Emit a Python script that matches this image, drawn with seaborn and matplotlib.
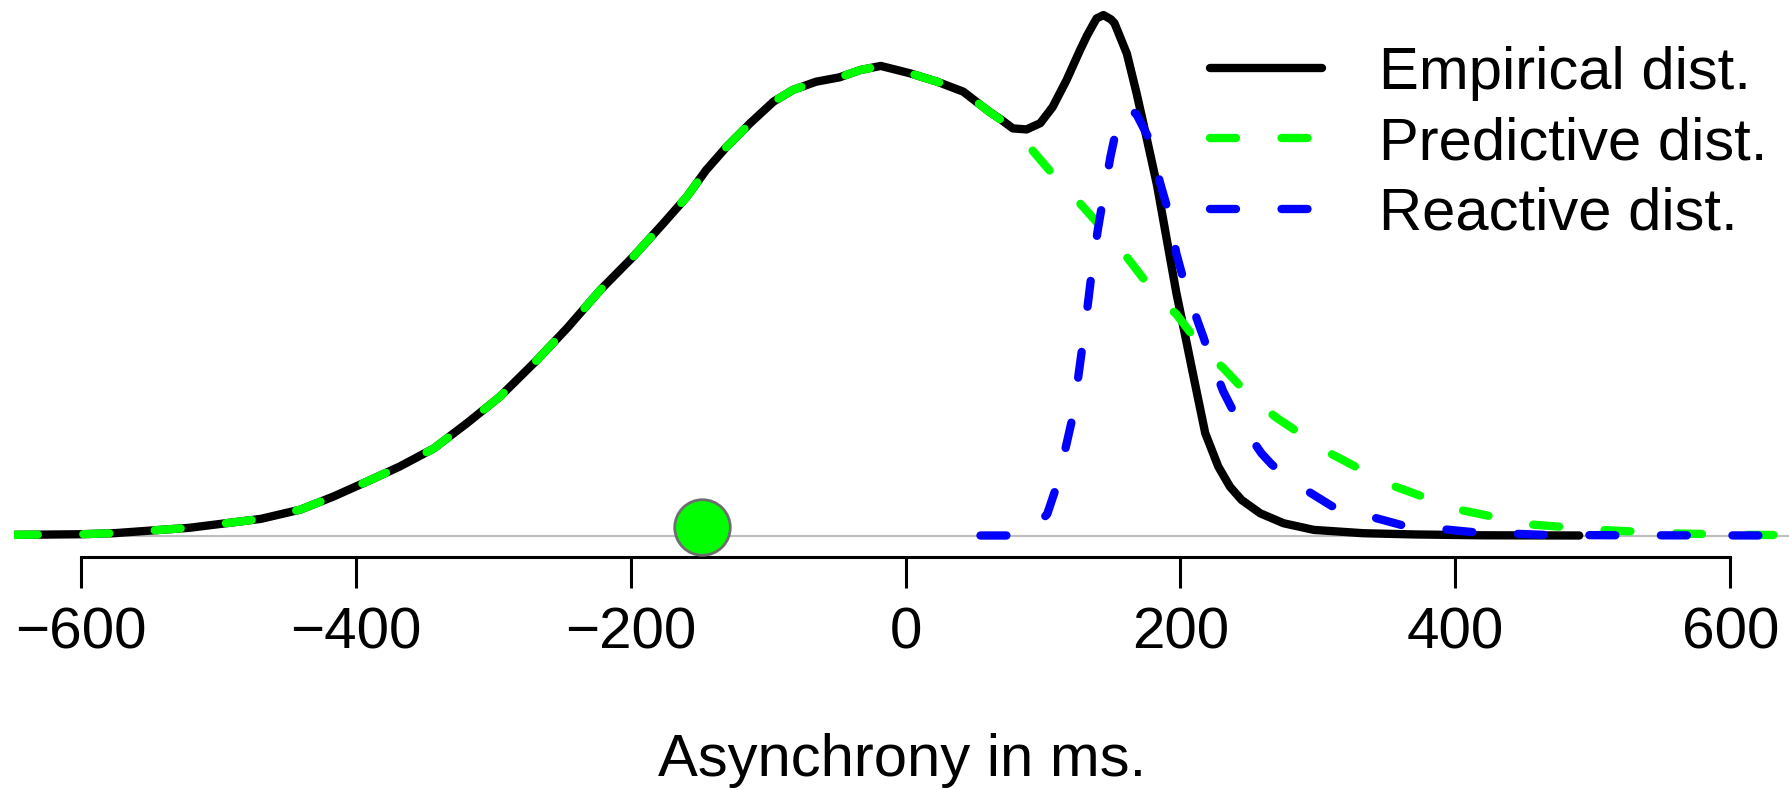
import matplotlib
matplotlib.use("Agg")
import matplotlib.pyplot as plt
import seaborn as sns

# Asynchrony (ms) and density values (in units of 1e-3 per ms)
empirical_ms = [-650, -600, -576, -521, -469, -440, -416, -392, -368, -343,
                -319, -295, -269, -246, -222, -198, -176, -159, -145, -130,
                -113, -96, -82, -65, -48, -33, -18, 3, 23, 42,
                61, 70, 78, 88, 98, 107, 117, 127, 132, 137,
                139, 144, 149.5, 152, 161, 168, 175, 183, 190, 197,
                204.5, 208, 213, 218, 227.5, 236, 244.5, 258, 275, 297,
                333, 371, 420, 490]
empirical_density = [0.003, 0.006, 0.011, 0.037, 0.080, 0.125, 0.188, 0.259, 0.332, 0.420,
                     0.541, 0.669, 0.839, 1.000, 1.183, 1.344, 1.505, 1.633, 1.761, 1.874,
                     1.987, 2.091, 2.147, 2.187, 2.208, 2.243, 2.263, 2.228, 2.187, 2.139,
                     2.042, 2.002, 1.962, 1.957, 1.987, 2.065, 2.193, 2.340, 2.409, 2.469,
                     2.492, 2.508, 2.487, 2.469, 2.322, 2.133, 1.927, 1.686, 1.427, 1.169,
                     0.928, 0.814, 0.653, 0.493, 0.332, 0.235, 0.171, 0.107, 0.059, 0.027,
                     0.011, 0.005, 0.001, 0.000]

predictive_ms = [-650, -600, -576, -521, -469, -440, -416, -392, -368, -343,
                 -319, -295, -269, -246, -222, -198, -176, -159, -145, -130,
                 -113, -96, -82, -65, -48, -33, -18, 3, 23, 42,
                 61, 70, 78, 91, 112, 127, 149, 162, 181, 197,
                 219, 224, 231, 253, 262, 270, 306, 352, 402, 455,
                 508, 560, 613, 650]
predictive_density = [0.003, 0.006, 0.011, 0.037, 0.080, 0.125, 0.188, 0.259, 0.332, 0.420,
                      0.541, 0.669, 0.839, 1.000, 1.183, 1.344, 1.505, 1.633, 1.761, 1.874,
                      1.987, 2.091, 2.147, 2.187, 2.208, 2.243, 2.263, 2.228, 2.187, 2.139,
                      2.042, 2.000, 1.945, 1.866, 1.703, 1.600, 1.436, 1.333, 1.169, 1.066,
                      0.877, 0.849, 0.808, 0.653, 0.607, 0.567, 0.406, 0.246, 0.125, 0.053,
                      0.026, 0.010, 0.003, 0.002]

reactive_ms = [54.5, 78, 90, 103, 110, 117, 122, 126, 129, 133,
               135.5, 140, 144, 149, 154, 161, 168, 178, 185, 191,
               197, 203, 213, 217, 220, 231, 236.5, 241, 259, 266,
               272, 282, 310, 361, 413, 465, 520, 650]
reactive_density = [0.000, 0.000, 0.019, 0.102, 0.240, 0.438, 0.584, 0.782, 0.928, 1.135,
                    1.273, 1.479, 1.634, 1.824, 1.978, 2.065, 2.030, 1.901, 1.703, 1.565,
                    1.359, 1.213, 1.023, 0.950, 0.885, 0.696, 0.624, 0.567, 0.395, 0.345,
                    0.309, 0.257, 0.142, 0.050, 0.016, 0.003, 0.001, 0.000]

marker_ms = [-148]
marker_density = [0.043]

tick_values = [-600, -400, -200, 0, 200, 400, 600]
series_labels = ["Empirical dist.", "Predictive dist.", "Reactive dist."]
x_label = "Asynchrony in ms."

sns.set_style("white")
plt.rcParams["font.family"] = ["Liberation Sans", "DejaVu Sans"]
plt.rcParams["lines.scale_dashes"] = False
plt.rcParams["text.color"] = "black"
plt.rcParams["axes.labelcolor"] = "black"
plt.rcParams["xtick.color"] = "black"

W, H = 1790, 790
fig = plt.figure(figsize=(W / 100, H / 100), dpi=100)
ax = fig.add_axes([14 / W, 233 / H, 1776 / W, 557 / H])

# zero reference line
ax.axhline(0, color="#bebebe", lw=1.5, zorder=1)

line_width = 6
dash_pattern = (18.7, 32.8)

sns.lineplot(x=empirical_ms, y=empirical_density, color="black", lw=line_width,
             label=series_labels[0], ax=ax, zorder=3)
ax.lines[-1].set_solid_capstyle("round")
ax.lines[-1].set_solid_joinstyle("round")

sns.lineplot(x=predictive_ms, y=predictive_density, color="#00ff00", lw=line_width,
             label=series_labels[1], ax=ax, zorder=4)
ax.lines[-1].set_dashes(dash_pattern)
ax.lines[-1].set_dash_capstyle("round")

sns.lineplot(x=reactive_ms, y=reactive_density, color="#0000ff", lw=line_width,
             label=series_labels[2], ax=ax, zorder=5)
ax.lines[-1].set_dashes(dash_pattern)
ax.lines[-1].set_dash_capstyle("round")

sns.scatterplot(x=marker_ms, y=marker_density, s=40 ** 2, color="#00ff00",
                edgecolor="#6e6e6e", linewidth=2, ax=ax, zorder=6, legend=False)

ax.set_xlim(-648.4, 643.3)
ax.set_ylim(-0.1036, 2.5807)

ax.set_xticks(tick_values)
ax.set_yticks([])
ax.tick_params(axis="x", bottom=True, length=22.3, width=2.2, pad=13,
               labelsize=42, direction="out", color="black", labelcolor="black")

for side in ("top", "left", "right"):
    ax.spines[side].set_visible(False)
ax.spines["bottom"].set_bounds(-600, 600)
ax.spines["bottom"].set_linewidth(2.2)
ax.spines["bottom"].set_color("black")

ax.set_xlabel(x_label, fontsize=43)
ax.xaxis.set_label_coords(0.5, -0.316)

ax.legend(loc="upper left", bbox_to_anchor=(1210 / W, 1 - 46 / H),
          bbox_transform=fig.transFigure, frameon=False, fontsize=43,
          handlelength=1.876, handletextpad=0.955, labelspacing=0.256,
          borderpad=0, borderaxespad=0)

fig.savefig("out.png", dpi=100)
